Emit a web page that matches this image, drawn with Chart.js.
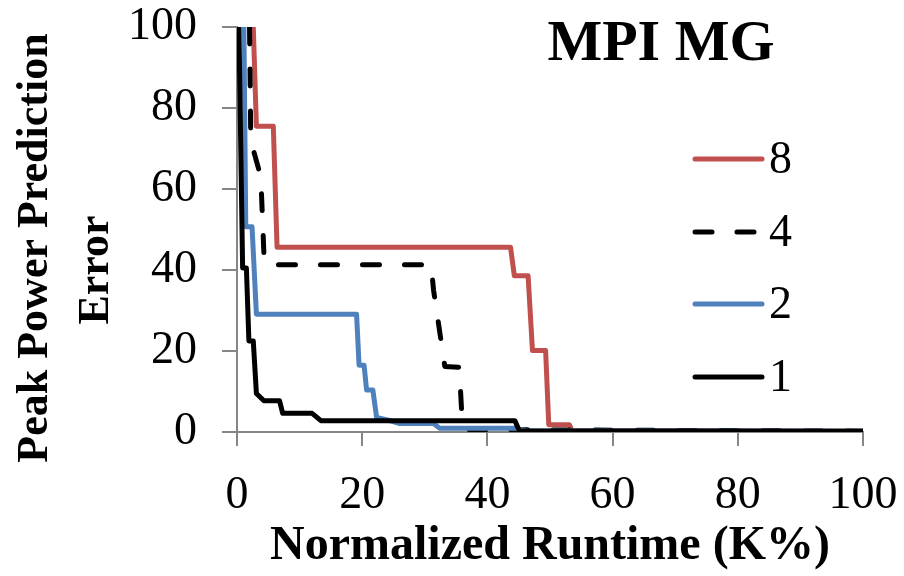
<!DOCTYPE html>
<html lang="en">
<head>
    <meta charset="UTF-8">
    <title>MPI MG</title>
    <script src="https://cdn.jsdelivr.net/npm/chart.js"></script>
    <style>
        html, body { margin: 0; padding: 0; background: #fff; }
        .chart-container { width: 904px; height: 576px; }
    </style>
</head>
<body>
    <div class="chart-container">
        <canvas id="lineChart"></canvas>
    </div>

    <script>
        // Data (x = normalized runtime %, y = error)
        const seriesLabels = ['8', '4', '2', '1'];

        const x8 = [2.6, 3.1, 5.8, 6.4, 43.7, 44.3, 46.5, 47.2, 49.3, 49.8, 53.1, 53.5, 100];
        const y8 = [100, 75.5, 75.5, 45.6, 45.6, 38.6, 38.6, 20.1, 20.1, 1.8, 1.8, 0.3, 0.2];

        const x4 = [2.0, 2.2, 3.8, 4.3, 4.6, 31.0, 31.4, 33.2, 35.5, 36.0, 36.6, 100];
        const y4 = [100, 72, 63, 44, 41.3, 41.3, 35, 16.2, 16.0, 2.0, 0.6, 0.2];

        const x2 = [1.1, 1.4, 2.4, 3.1, 19.1, 19.5, 20.3, 20.7, 21.7, 22.3, 24.0, 26.0, 31.4, 32.4, 44.5, 46.0, 100];
        const y2 = [100, 50.7, 50.7, 29.1, 29.1, 16.5, 16.5, 10.4, 10.4, 3.6, 3.0, 2.1, 2.1, 0.9, 0.9, 0.3, 0.2];

        const x1 = [0.3, 0.9, 1.5, 1.9, 2.6, 3.1, 4.3, 6.8, 7.3, 12.0, 13.4, 44.4, 45.1, 100];
        const y1 = [100, 40.5, 40.5, 22.5, 22.5, 9.5, 7.7, 7.7, 4.6, 4.6, 2.8, 2.8, 0.3, 0.2];

        const xTicks = [0, 20, 40, 60, 80, 100];
        const yTicks = [0, 20, 40, 60, 80, 100];

        const FONT = "'Liberation Serif', 'Times New Roman', serif";
        const AXIS_GREY = '#868686';

        function toPoints(xs, ys) {
            return xs.map((x, i) => ({ x: x, y: ys[i] }));
        }

        // order: higher number is drawn first, so series "1" ends up on top
        function lineSet(label, xs, ys, color, order, dash) {
            return {
                label: label,
                data: toPoints(xs, ys),
                order: order,
                borderColor: color,
                backgroundColor: color,
                borderWidth: 5,
                borderDash: dash || [],
                borderCapStyle: 'round',
                borderJoinStyle: 'round',
                pointRadius: 0,
                tension: 0,
                fill: false
            };
        }

        // Title, legend and the two-line y title sit at fixed spots like the original
        const decorations = {
            id: 'decorations',
            afterDraw(chart) {
                const ctx = chart.ctx;
                ctx.save();
                ctx.fillStyle = '#000';

                ctx.font = 'bold 58px ' + FONT;
                ctx.textAlign = 'center';
                ctx.textBaseline = 'alphabetic';
                ctx.fillText('MPI MG', 661, 60);

                const rows = [159, 232, 304, 377];
                chart.data.datasets.forEach((ds, i) => {
                    const y = rows[i];
                    ctx.beginPath();
                    ctx.strokeStyle = ds.borderColor;
                    ctx.lineWidth = 5;
                    ctx.lineCap = 'round';
                    ctx.setLineDash(ds.borderDash);
                    ctx.moveTo(695, y);
                    ctx.lineTo(762, y);
                    ctx.stroke();
                    ctx.setLineDash([]);
                    ctx.font = '46px ' + FONT;
                    ctx.textAlign = 'left';
                    ctx.textBaseline = 'middle';
                    ctx.fillText(ds.label, 769, y + 2);
                });

                ctx.font = 'bold 44px ' + FONT;
                ctx.textAlign = 'center';
                ctx.textBaseline = 'middle';
                ctx.translate(36, 248);
                ctx.rotate(-Math.PI / 2);
                ctx.fillText('Peak Power Prediction', 0, 0);
                ctx.rotate(Math.PI / 2);
                ctx.translate(61, 22);
                ctx.rotate(-Math.PI / 2);
                ctx.fillText('Error', 0, 0);
                ctx.restore();
            }
        };

        const ctx = document.getElementById('lineChart').getContext('2d');

        new Chart(ctx, {
            type: 'line',
            data: {
                datasets: [
                    lineSet(seriesLabels[0], x8, y8, '#C0504D', 4),
                    lineSet(seriesLabels[1], x4, y4, '#000000', 3, [17, 25]),
                    lineSet(seriesLabels[2], x2, y2, '#4F81BD', 2),
                    lineSet(seriesLabels[3], x1, y1, '#000000', 1)
                ]
            },
            options: {
                responsive: true,
                maintainAspectRatio: false,
                animation: false,
                layout: {
                    padding: 0
                },
                scales: {
                    x: {
                        type: 'linear',
                        min: 0,
                        max: 100,
                        afterBuildTicks: (scale) => {
                            scale.ticks = xTicks.map(v => ({ value: v }));
                        },
                        afterFit: (scale) => {
                            scale.height = 144;
                            scale.paddingLeft = 0;
                            scale.paddingRight = 41;
                        },
                        grid: {
                            drawOnChartArea: false,
                            drawTicks: true,
                            tickLength: 14,
                            color: AXIS_GREY,
                            lineWidth: 2
                        },
                        border: { display: true, color: AXIS_GREY, width: 2 },
                        ticks: {
                            color: '#000',
                            padding: 22,
                            maxRotation: 0,
                            font: { family: FONT, size: 46 }
                        },
                        title: {
                            display: true,
                            text: 'Normalized Runtime (K%)',
                            color: '#000',
                            padding: { top: 0, bottom: 1 },
                            font: { family: FONT, size: 48, weight: 'bold' }
                        }
                    },
                    y: {
                        min: 0,
                        max: 100,
                        afterBuildTicks: (scale) => {
                            scale.ticks = yTicks.map(v => ({ value: v }));
                        },
                        afterFit: (scale) => {
                            scale.width = 237;
                            scale.paddingTop = 27;
                            scale.paddingBottom = 0;
                        },
                        grid: {
                            drawOnChartArea: false,
                            drawTicks: true,
                            tickLength: 15,
                            color: AXIS_GREY,
                            lineWidth: 2
                        },
                        border: { display: true, color: AXIS_GREY, width: 2 },
                        ticks: {
                            color: '#000',
                            padding: 25,
                            font: { family: FONT, size: 46 }
                        }
                    }
                },
                plugins: {
                    legend: { display: false },
                    tooltip: { enabled: false }
                }
            },
            plugins: [decorations]
        });
    </script>
</body>
</html>
